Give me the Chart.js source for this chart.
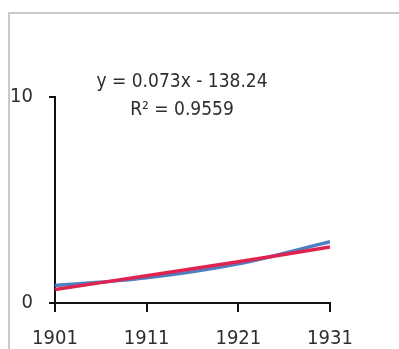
<!DOCTYPE html>
<html>
<head>
<meta charset="utf-8">
<script src="https://cdn.jsdelivr.net/npm/chart.js@4/dist/chart.umd.min.js"></script>
<style>
  html, body { margin: 0; padding: 0; background: #fff; overflow: hidden; }
</style>
</head>
<body>
<canvas id="chart" width="399" height="349"></canvas>
<script>
const years = [1901, 1911, 1921, 1931];
const observed = [0.85, 1.22, 1.9, 2.97];
const trend = [0.66, 1.32, 2.0, 2.72];
const yTicks = [0, 10];
const trendLabel = ['y = 0.073x - 138.24', 'R\u00b2 = 0.9559'];

const font = "'Liberation Sans Narrow', 'DejaVu Sans Condensed', 'Noto Sans', sans-serif";

// grey frame at top/left and the trendline equation
const decorations = {
    id: 'decorations',
    beforeDraw(chart) {
        const ctx = chart.ctx;
        ctx.save();
        ctx.strokeStyle = '#c9c9c9';
        ctx.lineWidth = 2;
        ctx.beginPath();
        ctx.moveTo(9, 349);
        ctx.lineTo(9, 13);
        ctx.lineTo(399, 13);
        ctx.stroke();
        ctx.restore();
    },
    afterDraw(chart) {
        const ctx = chart.ctx;
        ctx.save();
        ctx.fillStyle = '#2e2e2e';
        ctx.font = '19px ' + font;
        ctx.textAlign = 'center';
        ctx.textBaseline = 'middle';
        ctx.fillText(trendLabel[0], 182, 82);
        ctx.fillText(trendLabel[1], 182, 110);
        ctx.restore();
    }
};

new Chart(document.getElementById('chart'), {
    type: 'line',
    data: {
        datasets: [
            {
                label: 'trend',
                data: years.map((x, i) => ({ x, y: trend[i] })),
                borderColor: '#e0234e',
                borderWidth: 3.5,
                pointRadius: 0,
                tension: 0.2,
            },
            {
                label: 'observed',
                data: years.map((x, i) => ({ x, y: observed[i] })),
                borderColor: '#4f7fc0',
                borderWidth: 3.5,
                pointRadius: 0,
                cubicInterpolationMode: 'monotone',
            },
        ],
    },
    options: {
        responsive: false,
        animation: false,
        layout: { padding: { left: 0, top: 97, right: 69, bottom: 0 } },
        plugins: { legend: { display: false }, tooltip: { enabled: false } },
        scales: {
            x: {
                type: 'linear',
                min: 1901,
                max: 1931,
                afterBuildTicks: axis => { axis.ticks = years.map(v => ({ value: v })); },
                afterFit: axis => { axis.height = 46; },
                border: { display: true, color: '#111', width: 2 },
                grid: { drawOnChartArea: false, drawTicks: true, tickLength: 9, color: '#111', lineWidth: 2 },
                ticks: { color: '#2e2e2e', font: { family: font, size: 20 }, padding: 15,
                         callback: v => String(v) },
            },
            y: {
                min: 0,
                max: 10,
                afterBuildTicks: axis => { axis.ticks = yTicks.map(v => ({ value: v })); },
                afterFit: axis => { axis.width = 55; },
                border: { display: true, color: '#111', width: 2 },
                grid: { drawOnChartArea: false, drawTicks: true, tickLength: 6, color: '#111', lineWidth: 2 },
                ticks: { color: '#2e2e2e', font: { family: font, size: 20 }, padding: 16 },
            },
        },
    },
    plugins: [decorations],
});
</script>
</body>
</html>
